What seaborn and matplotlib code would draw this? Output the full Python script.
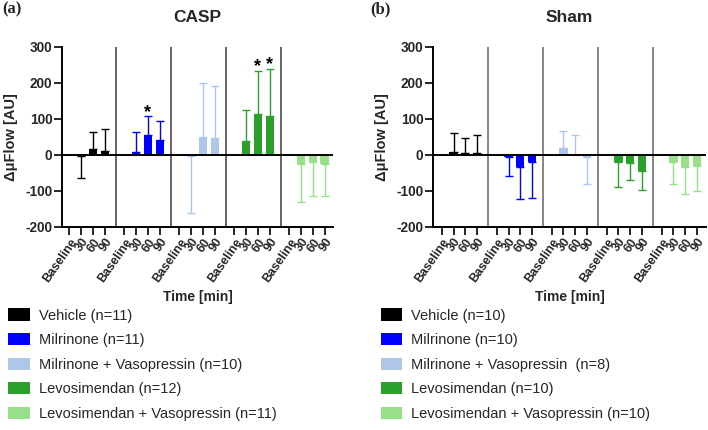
import numpy as np
import pandas as pd
import matplotlib
matplotlib.use("Agg")
import matplotlib.pyplot as plt
from matplotlib.patches import Patch
import seaborn as sns

# ---------------- data ----------------
times = ["Baseline", "30", "60", "90"]
groups = ["Vehicle", "Milrinone", "Milrinone + Vasopressin", "Levosimendan",
          "Levosimendan + Vasopressin"]
colors = ["#000000", "#0000ff", "#aec7e8", "#2ca02c", "#98df8a"]

# CASP panel: means and one-sided error (SD) per time point
casp_vehicle = [0, -2, 16, 10]
casp_milrinone = [0, 7, 55, 40]
casp_mil_vaso = [0, -3, 49, 46]
casp_levo = [0, 39, 113, 108]
casp_levo_vaso = [0, -24, -19, -26]

casp_vehicle_err = [0, 63, 48, 62]
casp_milrinone_err = [0, 57, 52, 55]
casp_mil_vaso_err = [0, 158, 150, 146]
casp_levo_err = [0, 85, 120, 131]
casp_levo_vaso_err = [0, 106, 96, 89]

# significance marks (group index, time index)
casp_stars = [(1, 2), (3, 2), (3, 3)]

casp_n = [11, 11, 10, 12, 11]

# Sham panel
sham_vehicle = [0, 9, 6, 4]
sham_milrinone = [0, -5, -34, -20]
sham_mil_vaso = [0, 19, 1, -5]
sham_levo = [0, -21, -23, -44]
sham_levo_vaso = [0, -20, -34, -30]

sham_vehicle_err = [0, 52, 41, 52]
sham_milrinone_err = [0, 54, 89, 100]
sham_mil_vaso_err = [0, 48, 55, 75]
sham_levo_err = [0, 69, 46, 53]
sham_levo_vaso_err = [0, 61, 75, 70]

sham_stars = []
sham_n = [10, 10, 8, 10, 10]
sham_labels_fmt = ["{} (n={})", "{} (n={})", "{}  (n={})", "{} (n={})", "{} (n={})"]

# ---------------- style ----------------
sns.set_theme(style="ticks")
plt.rcParams["font.family"] = ["Liberation Sans", "DejaVu Sans"]

GROUP_STEP = 4.66


def build_df(means, errs):
    rows = []
    for g, (m, e) in enumerate(zip(means, errs)):
        for j, t in enumerate(times):
            rows.append(dict(pos=g * GROUP_STEP + j, value=m[j], err=e[j],
                             group=groups[g], time=t))
    return pd.DataFrame(rows)


def draw_panel(ax, df, stars, sep_color, xlim):
    pal = dict(zip(groups, colors))
    sns.barplot(data=df, x="pos", y="value", hue="group", palette=pal,
                native_scale=True, dodge=False, errorbar=None, width=0.7,
                linewidth=0, saturation=1, legend=False, ax=ax)
    # one-sided error bars (Prism style)
    for g, grp in enumerate(groups):
        sub = df[(df["group"] == grp) & (df["err"] > 0)]
        lower = np.where(sub["value"] < 0, sub["err"], 0)
        upper = np.where(sub["value"] >= 0, sub["err"], 0)
        ax.errorbar(sub["pos"], sub["value"], yerr=[lower, upper], fmt="none",
                    ecolor=colors[g], elinewidth=1.0, capsize=2.6, capthick=1.0,
                    zorder=1)
    for g, j in stars:
        row = df[(df["group"] == groups[g]) & (df["time"] == times[j])].iloc[0]
        ax.text(row["pos"], row["value"] + row["err"] - 12, "*", ha="center",
                va="bottom", fontsize=13, fontweight="bold", color="black")
    # separators between groups
    for g in range(len(groups) - 1):
        xs = g * GROUP_STEP + 3 + (GROUP_STEP - 3) * 0.57
        ax.axvline(xs, color=sep_color, lw=1.1, zorder=0)
    ax.axhline(0, color="black", lw=1.4, zorder=3)
    ax.set_ylim(-200, 300)
    ax.set_xlim(*xlim)
    ax.set_yticks([-200, -100, 0, 100, 200, 300])
    ax.set_yticklabels(["-200", "-100", "0", "100", "200", "300"],
                       fontsize=9.8, fontweight="bold")
    ax.set_xticks(df["pos"])
    ax.set_xticklabels(df["time"], rotation=55, ha="right",
                       rotation_mode="anchor", fontsize=8.8, fontweight="bold")
    ax.tick_params(axis="both", length=5.5, width=1.2, pad=1.5, color="black")
    ax.tick_params(axis="x", pad=1)
    for s in ["top", "right"]:
        ax.spines[s].set_visible(False)
    for s in ["left", "bottom"]:
        ax.spines[s].set_linewidth(1.4)
        ax.spines[s].set_color("black")
    ax.set_xlabel("")
    ax.set_ylabel("")


W, H = 708, 430
fig = plt.figure(figsize=(W / 100, H / 100), dpi=100)

df_a = build_df([casp_vehicle, casp_milrinone, casp_mil_vaso, casp_levo, casp_levo_vaso],
                [casp_vehicle_err, casp_milrinone_err, casp_mil_vaso_err, casp_levo_err,
                 casp_levo_vaso_err])
df_b = build_df([sham_vehicle, sham_milrinone, sham_mil_vaso, sham_levo, sham_levo_vaso],
                [sham_vehicle_err, sham_milrinone_err, sham_mil_vaso_err, sham_levo_err,
                 sham_levo_vaso_err])

ax_a = fig.add_axes([62 / W, 1 - 227 / H, (333 - 62) / W, (227 - 46.7) / H])
ax_b = fig.add_axes([433 / W, 1 - 227 / H, (706 - 433) / W, (227 - 46.7) / H])

draw_panel(ax_a, df_a, casp_stars, "#3a3a3a", (-0.62, 22.35))
draw_panel(ax_b, df_b, sham_stars, "#666666", (-0.74, 22.4))

# titles, labels
for ax, title, cx, lx, tag, tx in [(ax_a, "CASP", 197.5, 11, "(a)", 2),
                                   (ax_b, "Sham", 569.5, 382, "(b)", 370)]:
    fig.text(cx / W, 1 - 17 / H, title, ha="center", va="center",
             fontsize=12.5, fontweight="bold")
    fig.text(lx / W, 1 - 137 / H, "ΔμFlow [AU]", ha="center", va="center",
             rotation=90, fontsize=10.5, fontweight="bold")
    fig.text(cx / W, 1 - 297 / H, "Time [min]", ha="center", va="center",
             fontsize=10, fontweight="bold")
    fig.text(tx / W, 1 - 9 / H, tag, ha="left", va="center", fontsize=12,
             fontweight="bold", family=["Liberation Serif", "DejaVu Serif"])

# legends
labels_a = ["{} (n={})".format(g, n) for g, n in zip(groups, casp_n)]
labels_b = [f.format(g, n) for f, g, n in zip(sham_labels_fmt, groups, sham_n)]
for labels, x0 in [(labels_a, 8), (labels_b, 380.5)]:
    handles = [Patch(facecolor=c, edgecolor="none") for c in colors]
    fig.legend(handles, labels, loc="upper left",
               bbox_to_anchor=(x0 / W, 1 - 308.5 / H), frameon=False,
               fontsize=10.5, handlelength=1.5, handleheight=0.9,
               handletextpad=0.6, labelspacing=0.72, borderpad=0,
               borderaxespad=0)

fig.savefig("out.png", dpi=100)
